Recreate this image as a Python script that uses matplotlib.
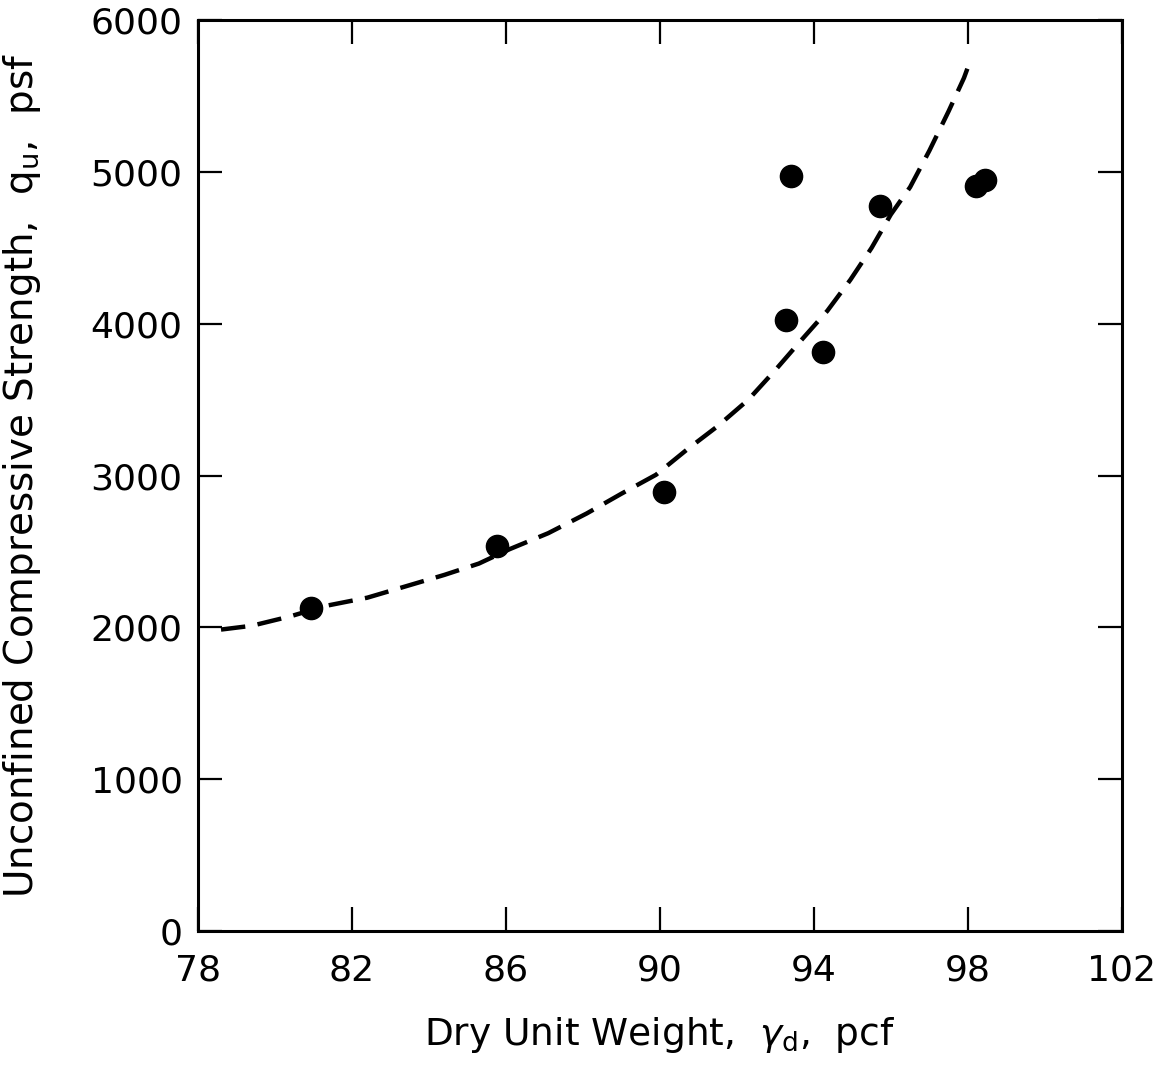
import matplotlib
matplotlib.use("Agg")
import matplotlib.pyplot as plt

# measured points (dry unit weight pcf, qu psf)
gamma_d = [80.95, 85.78, 90.1, 93.28, 93.4, 94.25, 95.73, 98.2, 98.45]
qu = [2130, 2535, 2893, 4028, 4972, 3815, 4775, 4906, 4950]

# dashed trend curve
curve_x = [78.6, 79.4, 80.4, 81.3, 82.4, 83.4, 84.4, 85.3, 86.1, 87.1, 88.1,
           89.0, 89.9, 90.7, 91.5, 92.3, 93.0, 93.65, 94.35, 94.95, 95.5,
           96.0, 96.5, 97.0, 97.5, 97.9, 98.03]
curve_y = [1985, 2010, 2072, 2140, 2195, 2270, 2345, 2420, 2515, 2620, 2750,
           2880, 3005, 3170, 3325, 3500, 3695, 3885, 4085, 4290, 4500,
           4720, 4900, 5140, 5400, 5620, 5710]

xticks = [78, 82, 86, 90, 94, 98, 102]
yticks = [0, 1000, 2000, 3000, 4000, 5000, 6000]

fig = plt.figure(figsize=(11.71, 10.65), dpi=100)
ax = fig.add_axes([0.169, 0.126, 0.789, 0.855])

ax.plot(curve_x, curve_y, color="black", lw=3.2, linestyle=(0, (5.5, 2.8)),
        dash_capstyle="butt")
ax.plot(gamma_d, qu, "o", color="black", markersize=16)

ax.set_xlim(78, 102)
ax.set_ylim(0, 6000)
ax.set_xticks(xticks)
ax.set_yticks(yticks)
ax.set_xticklabels([str(t) for t in xticks])
ax.set_yticklabels([str(t) for t in yticks])

for s in ax.spines.values():
    s.set_linewidth(2.2)

ax.tick_params(axis="both", direction="in", length=17, width=1.6,
               top=True, right=True, labelsize=26)
ax.tick_params(axis="x", pad=16)
ax.tick_params(axis="y", pad=11)

ax.set_xlabel(r"Dry Unit Weight,  $\gamma_{\rm d}$,  pcf", fontsize=27, labelpad=20)
ax.set_ylabel(r"Unconfined Compressive Strength,  q$_{\rm u}$,  psf", fontsize=28)
ax.yaxis.set_label_coords(-0.168, 0.5)

fig.savefig("out.png", dpi=100)
